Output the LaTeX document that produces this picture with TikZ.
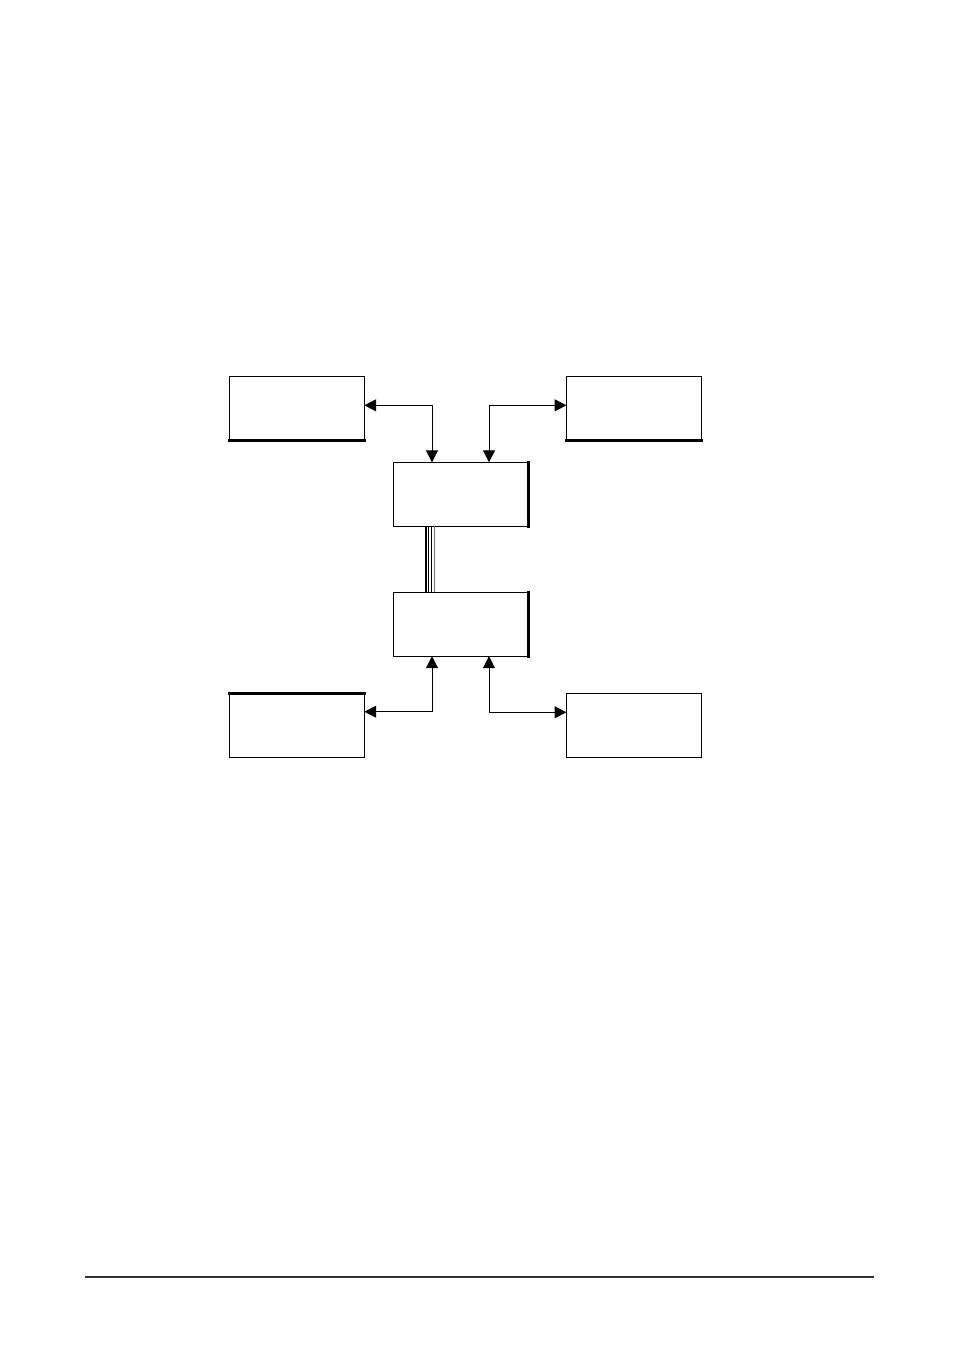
\documentclass[tikz,border=0pt]{standalone}
\usetikzlibrary{arrows.meta}
\begin{document}
\begin{tikzpicture}[x=0.5pt,y=-0.5pt,
  blk/.style={draw=black,line width=0.65pt,minimum width=67.5pt,minimum height=32pt,inner sep=0pt,outer sep=0pt,fill=white},
  arr/.style={line width=0.5pt,{Triangle[length=6pt,width=6pt]}-{Triangle[length=6pt,width=6pt]}},
  heavy/.style={line width=1.4pt,line cap=rect},
  bus/.style={line width=0.5pt}]
\useasboundingbox[fill=white] (0,0) rectangle (954,1351);
% boxes
\node[blk] (tl) at (296.7,408.2) {};
\node[blk] (tr) at (634,408.2) {};
\node[blk] (mt) at (460.7,494.3) {};
\node[blk] (ml) at (460.7,624.2) {};
\node[blk] (bl) at (296.7,725.5) {};
\node[blk] (br) at (634,725.5) {};
% heavier edges
\draw[heavy] ([xshift=0.3pt]tl.south west) -- (tl.south east);
\draw[heavy] (tr.south west) -- (tr.south east);
\draw[heavy] (mt.north east) -- (mt.south east);
\draw[heavy] (ml.north east) -- (ml.south east);
\draw[heavy] (bl.north west) -- (bl.north east);
% bus lines between middle boxes
\draw[line width=1pt] ([xshift=-17.6pt]mt.south) -- ([xshift=-17.6pt]ml.north);
\draw[bus] ([xshift=-16pt]mt.south) -- ([xshift=-16pt]ml.north);
\draw[bus] ([xshift=-14.8pt]mt.south) -- ([xshift=-14.8pt]ml.north);
\draw[bus,black!55] ([xshift=-13.3pt]mt.south) -- ([xshift=-13.3pt]ml.north);
% connector corner coordinates
\coordinate (c1) at (432,405.3);
\coordinate (c2) at (489,405.3);
\coordinate (c3) at (432,711.7);
\coordinate (c4) at (489,712.3);
% connectors
\draw[arr] (tl.east |- c1) -| (mt.north -| c1);
\draw[arr] (tr.west |- c2) -| (mt.north -| c2);
\draw[arr] (bl.east |- c3) -| (ml.south -| c3);
\draw[arr] (br.west |- c4) -| (ml.south -| c4);
% footer rule
\coordinate (f1) at (85,1277);
\coordinate (f2) at (874,1277);
\draw[line width=1pt,black!80] (f1) -- (f2);
\end{tikzpicture}
\end{document}
